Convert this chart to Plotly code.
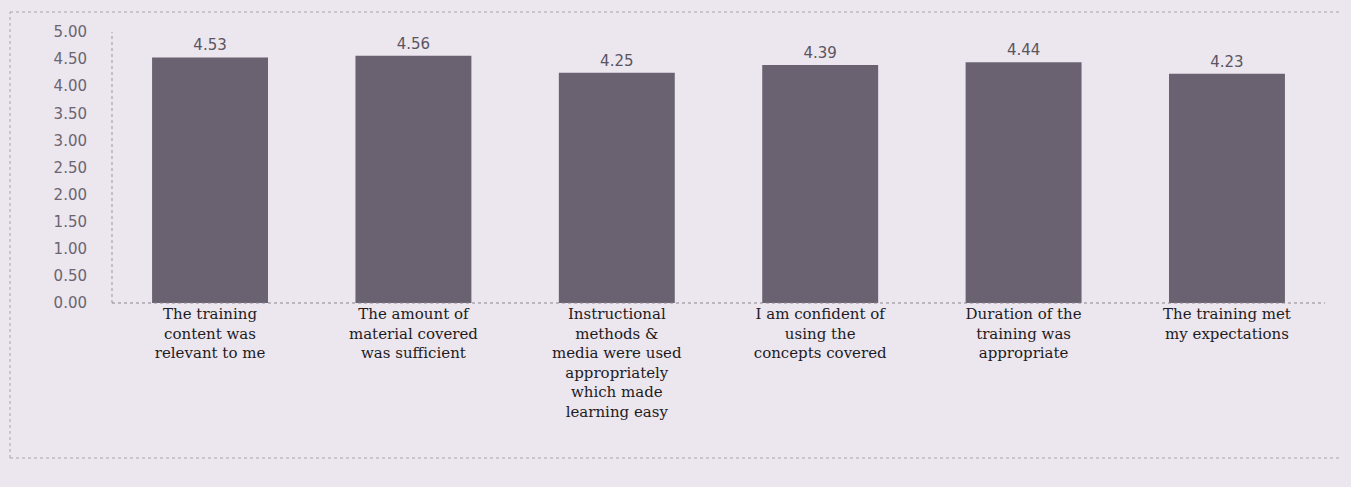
import plotly.graph_objects as go

# Survey items and mean ratings
categories = [
    "The training<br>content was<br>relevant to me",
    "The amount of<br>material covered<br>was sufficient",
    "Instructional<br>methods &<br>media were used<br>appropriately<br>which made<br>learning easy",
    "I am confident of<br>using the<br>concepts covered",
    "Duration of the<br>training was<br>appropriate",
    "The training met<br>my expectations",
]
scores = [4.53, 4.56, 4.25, 4.39, 4.44, 4.23]
tick_values = [0, 0.5, 1.0, 1.5, 2.0, 2.5, 3.0, 3.5, 4.0, 4.5, 5.0]

W, H = 1351, 487
L, R, T, B = 112, 26, 32, 184
PW, PH = W - L - R, H - T - B
bg = "#ece6ef"


def px(x):
    """Pixel column -> paper x."""
    return (x - L) / PW


def py(y):
    """Pixel row -> paper y."""
    return (H - B - y) / PH


fig = go.Figure(
    go.Bar(
        x=list(range(len(categories))),
        y=scores,
        text=[f"{v:.2f}" for v in scores],
        textposition="outside",
        textfont=dict(family="DejaVu Sans", size=15, color="#5a5560"),
        cliponaxis=False,
        marker=dict(color="#6b6271", line=dict(width=0)),
        width=0.57,
    )
)

frame = dict(color="#a8a3ad", width=1, dash="dot")
fig.update_layout(
    width=W,
    height=H,
    margin=dict(l=L, r=R, t=T, b=B),
    paper_bgcolor=bg,
    plot_bgcolor=bg,
    showlegend=False,
    xaxis=dict(
        tickmode="array",
        tickvals=list(range(len(categories))),
        ticktext=categories,
        tickangle=0,
        tickfont=dict(family="DejaVu Serif", size=15, color="#1e1b22"),
        showgrid=False,
        zeroline=False,
        showline=False,
        ticks="",
        range=[-0.482, 5.482],
    ),
    yaxis=dict(
        range=[0, 5],
        tickvals=tick_values,
        tickformat=".2f",
        tickfont=dict(family="DejaVu Sans", size=15, color="#6a6570"),
        ticklabelstandoff=24,
        showgrid=False,
        zeroline=False,
        showline=False,
        ticks="",
    ),
    shapes=[
        # plot-area axes
        dict(type="line", xref="paper", yref="paper", x0=0, x1=0, y0=0, y1=1,
             line=dict(color="#9a95a0", width=1, dash="dot")),
        dict(type="line", xref="paper", yref="paper", x0=0, x1=1, y0=0, y1=0,
             line=dict(color="#8a8590", width=1, dash="dot")),
        # outer frame
        dict(type="line", xref="paper", yref="paper",
             x0=px(10), x1=px(1340), y0=py(12), y1=py(12), line=frame),
        dict(type="line", xref="paper", yref="paper",
             x0=px(10), x1=px(1340), y0=py(458), y1=py(458), line=frame),
        dict(type="line", xref="paper", yref="paper",
             x0=px(10), x1=px(10), y0=py(458), y1=py(12), line=frame),
    ],
)

fig.write_html("out.html")
